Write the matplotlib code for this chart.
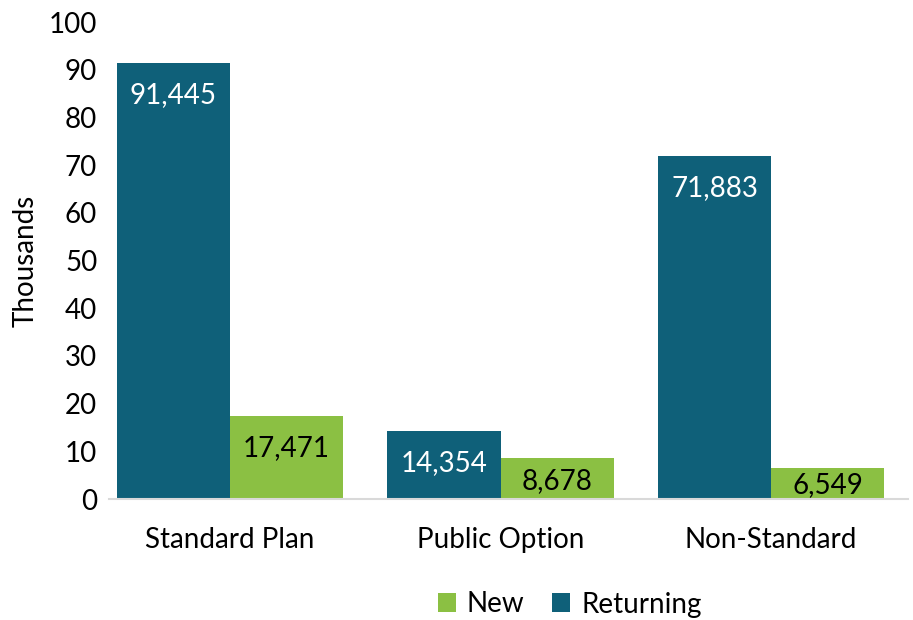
import matplotlib
matplotlib.use("Agg")
import matplotlib.pyplot as plt
import numpy as np

categories = ["Standard Plan", "Public Option", "Non-Standard"]
returning = [91445, 14354, 71883]
new = [17471, 8678, 6549]
yticks = [0, 10, 20, 30, 40, 50, 60, 70, 80, 90, 100]

TEAL = "#0F6079"
GREEN = "#8BC043"
FS = 20

plt.rcParams['font.family'] = ['Lato', 'DejaVu Sans']
fig = plt.figure(figsize=(9.13, 6.2), dpi=100)
ax = fig.add_axes([0.1194, 0.195, 0.8751, 0.7694])

x = np.arange(len(categories))
w = 0.418
ret_k = [v / 1000 for v in returning]
new_k = [v / 1000 for v in new]
b1 = ax.bar(x - w / 2, ret_k, w, color=TEAL, label="Returning")
b2 = ax.bar(x + w / 2, new_k, w, color=GREEN, label="New")

ax.set_ylim(0, 100)
ax.set_xlim(-0.447, 2.506)
ax.set_yticks(yticks)
ax.set_xticks(x)
ax.set_xticklabels(categories)
ax.tick_params(axis='both', length=0, labelsize=FS, colors='black')
ax.tick_params(axis='y', pad=8.5)
ax.tick_params(axis='x', pad=20)
for s in ['top', 'right', 'left']:
    ax.spines[s].set_visible(False)
ax.spines['bottom'].set_color('#D9D9D9')
ax.spines['bottom'].set_linewidth(1.5)
ax.set_ylabel("Thousands", fontsize=FS)
ax.yaxis.set_label_coords(-0.088, 0.5)

px_per_unit = 0.7694 * 620 / 100.0

def label(bars, vals, color):
    for b, v in zip(bars, vals):
        h_px = b.get_height() * px_per_unit
        off = min(32, h_px * 0.56)
        ax.annotate(f"{v:,}", (b.get_x() + b.get_width() / 2, b.get_height()),
                    xytext=(0, -off * 72 / 100), textcoords='offset points',
                    ha='center', va='center', fontsize=FS, color=color)

label(b1, returning, 'white')
label(b2, new, 'black')

handles = [b2, b1]
leg = fig.legend(handles, ["New", "Returning"], loc='center', bbox_to_anchor=(0.624, 0.025),
                 ncol=2, frameon=False, fontsize=FS, handlelength=0.65, handleheight=0.65,
                 handletextpad=0.4, columnspacing=1.0)

fig.savefig("out.png", dpi=100)
